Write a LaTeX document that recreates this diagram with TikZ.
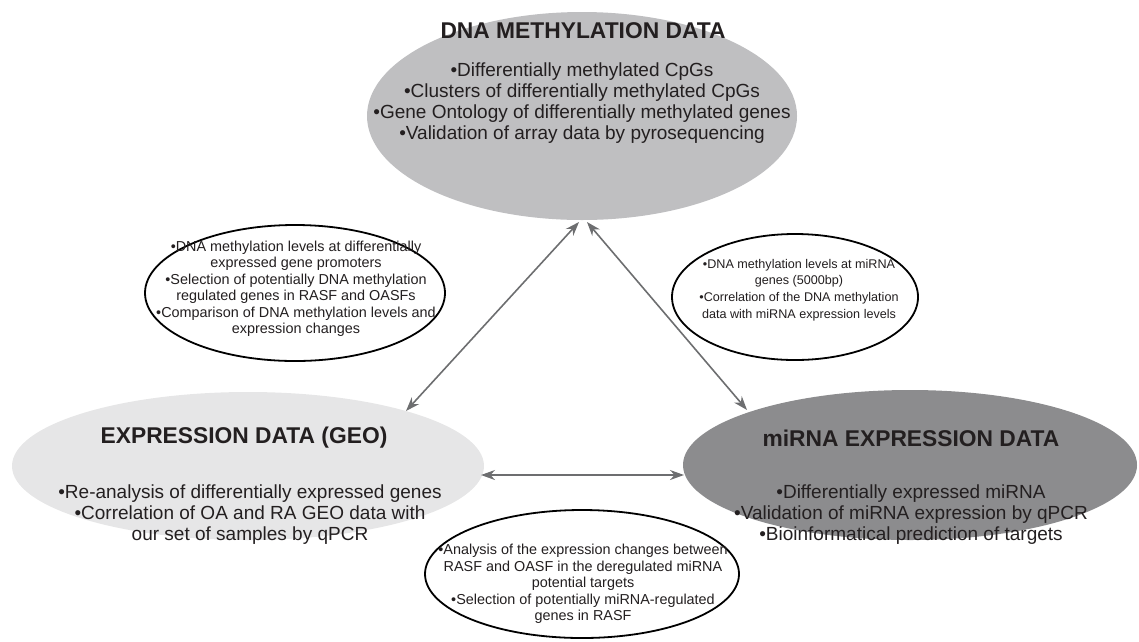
\documentclass[tikz,border=0pt]{standalone}
\usepackage{fontspec}
\setmainfont{Liberation Sans}
\usetikzlibrary{shapes.geometric,arrows.meta}
\definecolor{txt}{HTML}{231F20}
\definecolor{topfill}{HTML}{BFBFC1}
\definecolor{leftfill}{HTML}{E6E6E7}
\definecolor{rightfill}{HTML}{8C8C8E}
\definecolor{arr}{HTML}{6D6E70}
\begin{document}
\begin{tikzpicture}[x=1pt,y=-1pt,
  bigell/.style={ellipse,inner sep=0pt,draw=none},
  smallell/.style={ellipse,inner sep=0pt,draw=black,line width=1.8pt,fill=white},
  title/.style={font=\bfseries\fontsize{22.8}{26}\selectfont,text=txt,inner sep=0pt},
  body/.style={font=\fontsize{19}{21}\selectfont,text=txt,align=center,inner sep=0pt},
  small/.style={font=\fontsize{14.4}{16.5}\selectfont,text=txt,align=center,inner sep=0pt},
  smallr/.style={font=\fontsize{12.6}{16.8}\selectfont,text=txt,align=center,inner sep=0pt},
  conn/.style={draw=arr,line width=1.6pt,{Stealth[length=14pt,width=10pt]}-{Stealth[length=14pt,width=10pt]}}
]
\useasboundingbox (0,0) rectangle (1139,641);

% big ellipses
\node[bigell,fill=topfill,minimum width=430pt,minimum height=208pt] (dna) at (582,116) {};
\node[bigell,fill=leftfill,minimum width=472pt,minimum height=148pt] (geo) at (248,466) {};
\node[bigell,fill=rightfill,minimum width=454pt,minimum height=150pt] (mir) at (910,465) {};

% small ellipses
\node[smallell,minimum width=300pt,minimum height=136pt] (sl) at (295,293) {};
\node[smallell,minimum width=246pt,minimum height=126pt] (sr) at (795,297) {};
\node[smallell,minimum width=314pt,minimum height=128pt] (sb) at (582,574) {};

% titles
\node[title] (dnat) at (583,31) {DNA METHYLATION DATA};
\node[title] (geot) at (244,438) {EXPRESSION DATA (GEO)};
\node[title] (mirt) at (911,438) {miRNA EXPRESSION DATA};

% body texts
\node[body] (dnab) at (582,103) {•Differentially methylated CpGs\\•Clusters of differentially methylated CpGs\\•Gene Ontology of differentially methylated genes\\•Validation of array data by pyrosequencing};
\node[body] (geob) at (250,515) {•Re-analysis of differentially expressed genes\\•Correlation of OA and RA GEO data with\\our set of samples by qPCR};
\node[body] (mirb) at (911,515) {•Differentially expressed miRNA\\•Validation of miRNA expression by qPCR\\•Bioinformatical prediction of targets};

\node[small] (slt) at (296,289) {•DNA methylation levels at differentially\\expressed gene promoters\\•Selection of potentially DNA methylation\\regulated genes in RASF and OASFs\\•Comparison of DNA methylation levels and\\expression changes};
\node[smallr] (srt) at (799,290) {•DNA methylation levels at miRNA\\genes (5000bp)\\•Correlation of the DNA methylation\\data with miRNA expression levels};
\node[small] (sbt) at (583,584) {•Analysis of the expression changes between\\RASF and OASF in the deregulated miRNA\\potential targets\\•Selection of potentially miRNA-regulated\\genes in RASF};

% connectors
\coordinate (a1) at (579,222);
\coordinate (a2) at (406,411);
\coordinate (b1) at (587,222);
\coordinate (b2) at (747,410);
\coordinate (c1) at (481,475);
\coordinate (c2) at (684,475);
\draw[conn] (a1) -- (a2);
\draw[conn] (b1) -- (b2);
\draw[conn] (c1) -- (c2);
\end{tikzpicture}
\end{document}
